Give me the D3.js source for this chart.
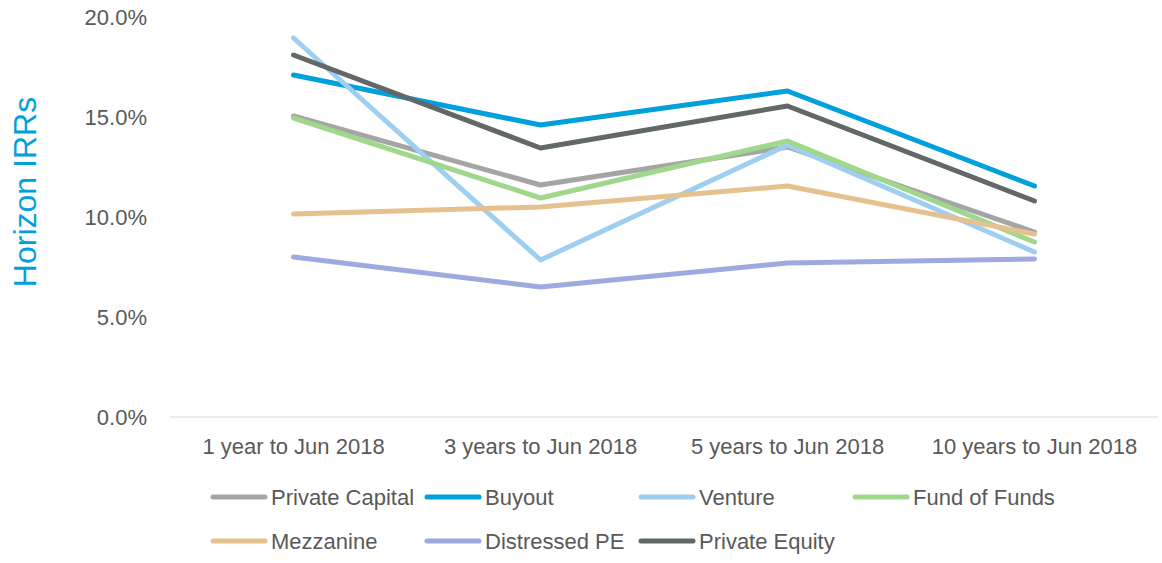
<!DOCTYPE html>
<html>
<head>
<meta charset="utf-8">
<script src="https://cdn.jsdelivr.net/npm/d3@7"></script>
<style>
    body { margin: 0; background: #fff; }
    svg { display: block; font-family: "Liberation Sans", Arial, sans-serif; }
</style>
</head>
<body>
<div id="chart"></div>
<script>
const categories = ["1 year to Jun 2018", "3 years to Jun 2018", "5 years to Jun 2018", "10 years to Jun 2018"];
const seriesNames = ["Private Capital", "Buyout", "Venture", "Fund of Funds", "Mezzanine", "Distressed PE", "Private Equity"];
const privateCapital = [15.05, 11.6, 13.5, 9.25];
const buyout = [17.1, 14.6, 16.3, 11.55];
const venture = [18.95, 7.85, 13.6, 8.25];
const fundOfFunds = [14.95, 10.95, 13.8, 8.75];
const mezzanine = [10.15, 10.5, 11.55, 9.15];
const distressedPE = [8.0, 6.5, 7.7, 7.9];
const privateEquity = [18.1, 13.45, 15.55, 10.8];
const yTicks = [0, 5, 10, 15, 20];

window.onload = function () {
    const w = 1162;
    const h = 563;
    const colors = ["#a5a5a5", "#00a0dc", "#9fcff0", "#9fd88b", "#e4c18e", "#9ea9e0", "#626767"];
    const values = [privateCapital, buyout, venture, fundOfFunds, mezzanine, distressedPE, privateEquity];
    const series = seriesNames.map((name, i) => ({ name: name, color: colors[i], values: values[i] }));

    const x = d3.scaleBand().domain(categories).range([170, 1158]);
    const y = d3.scaleLinear().domain([0, 20]).range([417, 17]);

    const svg = d3.select("#chart")
        .append("svg")
        .attr("width", w)
        .attr("height", h);

    // y tick labels
    svg.selectAll(".ytick")
        .data(yTicks)
        .enter()
        .append("text")
        .attr("class", "ytick")
        .attr("x", 147)
        .attr("y", d => y(d))
        .attr("dy", "0.35em")
        .attr("text-anchor", "end")
        .attr("font-size", "22px")
        .attr("fill", "#595959")
        .text(d => d.toFixed(1) + "%");

    // axis title
    svg.append("text")
        .attr("transform", "translate(36,192) rotate(-90)")
        .attr("text-anchor", "middle")
        .attr("font-size", "32px")
        .attr("fill", "#00a0dc")
        .text("Horizon IRRs");

    // x axis line
    svg.append("line")
        .attr("x1", 170)
        .attr("x2", 1158)
        .attr("y1", y(0))
        .attr("y2", y(0))
        .attr("stroke", "#d9d9d9")
        .attr("stroke-width", 1);

    svg.selectAll(".xtick")
        .data(categories)
        .enter()
        .append("text")
        .attr("class", "xtick")
        .attr("x", d => x(d) + x.bandwidth() / 2)
        .attr("y", 446)
        .attr("dy", "0.35em")
        .attr("text-anchor", "middle")
        .attr("font-size", "22px")
        .attr("fill", "#595959")
        .text(d => d);

    const line = d3.line()
        .x((d, i) => x(categories[i]) + x.bandwidth() / 2)
        .y(d => y(d));

    svg.selectAll(".series")
        .data(series)
        .enter()
        .append("path")
        .attr("class", "series")
        .attr("d", d => line(d.values))
        .attr("fill", "none")
        .attr("stroke", d => d.color)
        .attr("stroke-width", 5)
        .attr("stroke-linecap", "round")
        .attr("stroke-linejoin", "round");

    // legend
    const legend = svg.selectAll(".legend")
        .data(series)
        .enter()
        .append("g")
        .attr("class", "legend")
        .attr("transform", (d, i) => "translate(" + (211 + (i % 4) * 214) + "," + (497 + Math.floor(i / 4) * 44) + ")");

    legend.append("line")
        .attr("x1", 2)
        .attr("x2", 54)
        .attr("stroke", d => d.color)
        .attr("stroke-width", 5)
        .attr("stroke-linecap", "round");

    legend.append("text")
        .attr("x", 60)
        .attr("dy", "0.35em")
        .attr("font-size", "22px")
        .attr("fill", "#595959")
        .text(d => d.name);
};
</script>
</body>
</html>
